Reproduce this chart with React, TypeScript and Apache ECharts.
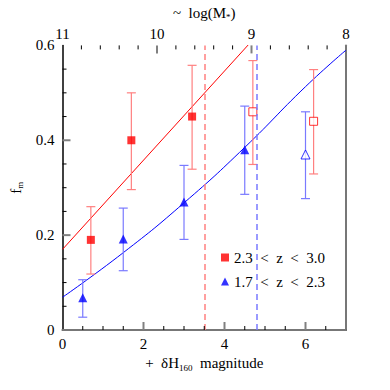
import React, { useEffect, useRef } from "react";
import * as echarts from "echarts";

// Red: 2.3 < z < 3.0
const redFilledX = [0.7, 1.7, 3.2];
const redFilledY = [0.19, 0.4, 0.45];
const redFilledLo = [0.118, 0.296, 0.339];
const redFilledHi = [0.26, 0.5, 0.558];
const redOpenX = [4.7, 6.2];
const redOpenY = [0.46, 0.44];
const redOpenLo = [0.349, 0.329];
const redOpenHi = [0.568, 0.549];

// Blue: 1.7 < z < 2.3
const blueFilledX = [0.5, 1.5, 3.0, 4.5];
const blueFilledY = [0.068, 0.192, 0.27, 0.38];
const blueFilledLo = [0.027, 0.125, 0.191, 0.286];
const blueFilledHi = [0.106, 0.257, 0.347, 0.472];
const blueOpenX = [6.0];
const blueOpenY = [0.37];
const blueOpenLo = [0.277];
const blueOpenHi = [0.46];

// Fit lines
const redFitX = [0, 7];
const redFitY = [0.17, 0.828];
const blueFitX = [0, 1.5, 3, 4.5, 6, 7];
const blueFitY = [0.069, 0.163, 0.268, 0.385, 0.513, 0.59];

// Limits (dashed vertical lines)
const redLimit = 3.5;
const blueLimit = 4.8;

// Tick labels
const bottomTicks = [0, 2, 4, 6];
const topTicks = [11, 10, 9, 8];
const leftTicks = [0, 0.2, 0.4, 0.6];
const legendNames = ["2.3  <  z  <  3.0", "1.7  <  z  <  2.3"];

const FONT = "'Liberation Serif', 'DejaVu Serif', serif";
const RED = "#ff0000";
const BLUE = "#0000ff";
const RED_ERR = "#ff8080";
const BLUE_ERR = "#7a7aff";

function pairs(xs: number[], ys: number[]) {
  return xs.map((x, i) => [x, ys[i]]);
}
function errData(xs: number[], lo: number[], hi: number[]) {
  return xs.map((x, i) => [x, lo[i], hi[i]]);
}
function steps(a: number, b: number, n: number) {
  const out: number[] = [];
  for (let i = 0; i <= n; i++) out.push(+(a + ((b - a) * i) / n).toFixed(4));
  return out;
}

function errSeries(data: number[][], color: string) {
  return {
    type: "custom",
    xAxisIndex: 0,
    yAxisIndex: 0,
    z: 2,
    data,
    renderItem: (params: any, api: any) => {
      const x = api.value(0);
      const lo = api.coord([x, api.value(1)]);
      const hi = api.coord([x, api.value(2)]);
      const w = 4.5;
      const style = { stroke: color, lineWidth: 1.2 };
      return {
        type: "group",
        children: [
          { type: "line", shape: { x1: lo[0], y1: lo[1], x2: hi[0], y2: hi[1] }, style },
          { type: "line", shape: { x1: lo[0] - w, y1: lo[1], x2: lo[0] + w, y2: lo[1] }, style },
          { type: "line", shape: { x1: hi[0] - w, y1: hi[1], x2: hi[0] + w, y2: hi[1] }, style },
        ],
      };
    },
  };
}

const MAJOR = { stroke: "#808080", lineWidth: 2 };
const MINOR = { stroke: "#000", lineWidth: 1 };

// tick series: side = "bottom" | "top" | "left"
function tickSeries(side: string, values: number[], majors: number[], xAxisIndex: number) {
  return {
    type: "custom",
    xAxisIndex,
    yAxisIndex: 0,
    z: 10,
    silent: true,
    data: values.map((v) => [v, majors.some((m) => Math.abs(m - v) < 1e-6) ? 1 : 0]),
    renderItem: (params: any, api: any) => {
      const v = api.value(0);
      const major = api.value(1) === 1;
      const len = major ? 8 : 4;
      const style = major ? MAJOR : MINOR;
      if (side === "bottom") {
        const p = api.coord([v, 0]);
        return { type: "line", shape: { x1: p[0], y1: p[1], x2: p[0], y2: p[1] - len }, style };
      }
      if (side === "top") {
        const p = api.coord([v, 0.6]);
        return { type: "line", shape: { x1: p[0], y1: p[1], x2: p[0], y2: p[1] + len }, style };
      }
      const p = api.coord([0, v]);
      return { type: "line", shape: { x1: p[0], y1: p[1], x2: p[0] + len, y2: p[1] }, style };
    },
  };
}

export default function App() {
  const ref = useRef<HTMLDivElement>(null);
  useEffect(() => {
    if (!ref.current) return;
    const chart = echarts.init(ref.current, null, { renderer: "svg" });
    const axisLabel = { fontFamily: FONT, fontSize: 15, color: "#000" };
    const nameStyle = {
      fontFamily: FONT,
      fontSize: 15,
      color: "#000",
      rich: { s: { fontFamily: FONT, fontSize: 9, padding: [9, 0, 0, 0], color: "#000" } },
    };
    const option: any = {
      animation: false,
      backgroundColor: "#fff",
      textStyle: { fontFamily: FONT },
      grid: { left: 60, right: 44, top: 44, bottom: 60 },
      legend: {
        orient: "vertical",
        left: 216,
        top: 245,
        itemWidth: 8,
        itemHeight: 8,
        itemGap: 9,
        textStyle: { fontFamily: FONT, fontSize: 15, color: "#000" },
        data: [
          { name: legendNames[0], icon: "rect", itemStyle: { color: RED } },
          { name: legendNames[1], icon: "triangle", itemStyle: { color: BLUE } },
        ],
      },
      xAxis: [
        {
          type: "value",
          min: 0,
          max: 7,
          interval: 2,
          position: "bottom",
          axisLine: { show: true, lineStyle: { color: "#000", width: 1.5 } },
          axisTick: { show: false },
          splitLine: { show: false },
          axisLabel: {
            ...axisLabel,
            margin: 6,
            formatter: (v: number) => (bottomTicks.includes(v) ? String(v) : ""),
          },
          name: "+  δH{s|160}  magnitude",
          nameLocation: "middle",
          nameGap: 21,
          nameTextStyle: nameStyle,
        },
        {
          type: "value",
          min: 8,
          max: 11,
          interval: 1,
          inverse: true,
          position: "top",
          axisLine: { show: true, lineStyle: { color: "#777", width: 2 } },
          axisTick: { show: false },
          splitLine: { show: false },
          axisLabel: {
            ...axisLabel,
            margin: 4,
            formatter: (v: number) => (topTicks.includes(v) ? String(v) : ""),
          },
          name: "~  log(M{s|*})",
          nameLocation: "middle",
          nameGap: 18,
          nameTextStyle: nameStyle,
        },
      ],
      yAxis: [
        {
          type: "value",
          min: 0,
          max: 0.6,
          interval: 0.2,
          position: "left",
          axisLine: { show: true, lineStyle: { color: "#000", width: 1.5 } },
          axisTick: { show: false },
          splitLine: { show: false },
          axisLabel: {
            ...axisLabel,
            margin: 8,
            formatter: (v: number) => {
              const r = +v.toFixed(1);
              return leftTicks.includes(r) ? String(r) : "";
            },
          },
          name: "f{s|m}",
          nameLocation: "middle",
          nameGap: 38,
          nameRotate: 90,
          nameTextStyle: nameStyle,
        },
        {
          type: "value",
          min: 0,
          max: 0.6,
          position: "right",
          axisLine: { show: true, lineStyle: { color: "#777", width: 2 } },
          axisTick: { show: false },
          axisLabel: { show: false },
          splitLine: { show: false },
        },
      ],
      series: [
        {
          type: "line",
          xAxisIndex: 0,
          yAxisIndex: 0,
          data: pairs(redFitX, redFitY),
          showSymbol: false,
          symbol: "none",
          clip: true,
          lineStyle: { color: RED, width: 1 },
          z: 1,
          markLine: {
            silent: true,
            symbol: "none",
            label: { show: false },
            lineStyle: { color: RED_ERR, type: [6, 4], width: 1.5 },
            data: [{ xAxis: redLimit }],
          },
        },
        {
          type: "line",
          xAxisIndex: 0,
          yAxisIndex: 0,
          data: pairs(blueFitX, blueFitY),
          smooth: true,
          showSymbol: false,
          symbol: "none",
          clip: true,
          lineStyle: { color: BLUE, width: 1 },
          z: 1,
          markLine: {
            silent: true,
            symbol: "none",
            label: { show: false },
            lineStyle: { color: BLUE_ERR, type: [6, 4], width: 1.5 },
            data: [{ xAxis: blueLimit }],
          },
        },
        errSeries(errData(redFilledX, redFilledLo, redFilledHi), RED_ERR),
        errSeries(errData(redOpenX, redOpenLo, redOpenHi), RED_ERR),
        errSeries(errData(blueFilledX, blueFilledLo, blueFilledHi), BLUE_ERR),
        errSeries(errData(blueOpenX, blueOpenLo, blueOpenHi), BLUE_ERR),
        {
          name: legendNames[0],
          type: "scatter",
          xAxisIndex: 0,
          yAxisIndex: 0,
          symbol: "rect",
          symbolSize: 8,
          itemStyle: { color: RED },
          data: pairs(redFilledX, redFilledY),
          z: 3,
        },
        {
          type: "scatter",
          xAxisIndex: 0,
          yAxisIndex: 0,
          symbol: "rect",
          symbolSize: 8,
          itemStyle: { color: "#fff", borderColor: RED, borderWidth: 1 },
          data: pairs(redOpenX, redOpenY),
          z: 3,
        },
        {
          name: legendNames[1],
          type: "scatter",
          xAxisIndex: 0,
          yAxisIndex: 0,
          symbol: "triangle",
          symbolSize: 9,
          itemStyle: { color: BLUE },
          data: pairs(blueFilledX, blueFilledY),
          z: 3,
        },
        {
          type: "scatter",
          xAxisIndex: 0,
          yAxisIndex: 0,
          symbol: "triangle",
          symbolSize: 9,
          itemStyle: { color: "#fff", borderColor: BLUE, borderWidth: 1 },
          data: pairs(blueOpenX, blueOpenY),
          z: 3,
        },
        tickSeries("bottom", steps(0.5, 6.5, 12), [2, 4, 6], 0),
        tickSeries("left", steps(0.05, 0.55, 10), [0.2, 0.4], 0),
        tickSeries("top", steps(8.2, 10.8, 13), [9, 10], 1),
      ],
    };
    chart.setOption(option);
    return () => chart.dispose();
  }, []);
  return (
    <div
      ref={ref}
      style={{ position: "fixed", left: 0, top: 0, width: 390, height: 390, background: "#fff" }}
    />
  );
}
